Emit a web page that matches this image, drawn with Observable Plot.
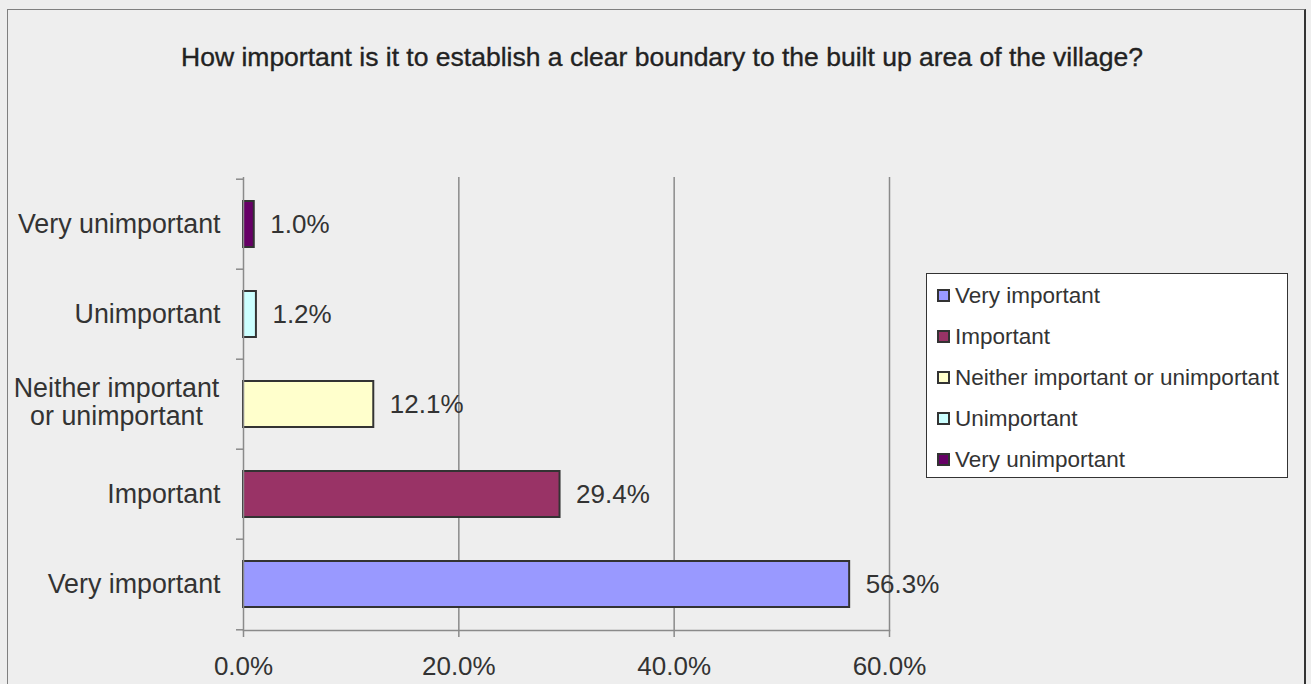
<!DOCTYPE html>
<html>
<head>
<meta charset="utf-8">
<script src="https://cdn.jsdelivr.net/npm/d3@7"></script>
<script src="https://cdn.jsdelivr.net/npm/@observablehq/plot@0.6"></script>
<style>
  html, body { margin: 0; padding: 0; background: #eeeeee; }
  #wrap { position: relative; width: 1311px; height: 684px; background: #eeeeee; overflow: hidden; font-family: "Liberation Sans", Arial, sans-serif; color: #333; }
  #border { position: absolute; left: 7px; top: 9px; width: 1296px; height: 700px; border-left: 1px solid #808080; border-top: 1px solid #808080; border-right: 2px solid #333; }
  #title { position: absolute; left: 0; top: 42px; width: 1324px; text-align: center; font-size: 26.5px; font-weight: normal; color: #222; -webkit-text-stroke: 0.35px #222; }
  #chart { position: absolute; left: 0; top: 0; }
  #legend { position: absolute; left: 926px; top: 273px; width: 362px; height: 205px; background: #fff; border: 1px solid #333; box-sizing: border-box; padding-top: 1px; }
  .item { display: flex; align-items: center; height: 41px; font-size: 22.5px; color: #333; padding-left: 10px; }
  .sw { width: 9px; height: 9px; border: 2px solid #333; margin-right: 5px; flex: none; }
</style>
</head>
<body>
<div id="wrap">
  <div id="border"></div>
  <div id="title"></div>
  <div id="chart"></div>
  <div id="legend"></div>
</div>
<script>
const title = "How important is it to establish a clear boundary to the built up area of the village?";
const categories = ["Very important", "Important", "Neither important or unimportant", "Unimportant", "Very unimportant"];
const values = [56.3, 29.4, 12.1, 1.2, 1.0];
const colors = ["#9999ff", "#993366", "#ffffcc", "#ccffff", "#660066"];
const xTicks = [0, 20, 40, 60];
const axisLabels = {"Neither important or unimportant": "Neither important\nor unimportant"};

const data = categories.map((c, i) => ({category: c, value: values[i]}));
const topToBottom = categories.slice().reverse();

const W = 1311, H = 684, mL = 243, mR = 422, mT = 177, mB = 54;
const step = (H - mT - mB) / categories.length;
const pct = d => d.toFixed(1) + "%";
const fs = 26;
const fsY = 26.8;

document.getElementById("title").textContent = title;

const chart = Plot.plot({
  width: W, height: H,
  marginLeft: mL, marginRight: mR, marginTop: mT, marginBottom: mB,
  style: {background: "transparent", fontFamily: "'Liberation Sans', Arial, sans-serif", fontSize: fs + "px", color: "#333"},
  x: {domain: [0, 60], label: null},
  y: {domain: topToBottom, paddingInner: 0.49, paddingOuter: 0.245, label: null},
  color: {domain: categories, range: colors},
  marks: [
    Plot.gridX(xTicks.slice(1), {stroke: "#8a8a8a", strokeOpacity: 1, strokeWidth: 1.5}),
    Plot.barX(data, {x: "value", y: "category", fill: "category", stroke: "#333", strokeWidth: 2}),
    Plot.text(data, {x: "value", y: "category", text: d => pct(d.value), dx: 16, textAnchor: "start", fontSize: fs, fill: "#333"}),
    Plot.ruleX([0], {stroke: "#8a8a8a", strokeWidth: 1.5}),
    Plot.frame({anchor: "bottom", stroke: "#8a8a8a", strokeWidth: 1.5}),
    Plot.axisX(xTicks, {tickSize: 7, stroke: "#8a8a8a", strokeWidth: 1.5, tickPadding: 19, tickFormat: pct, fontSize: fs, fill: "#333", label: null}),
    Plot.axisY(topToBottom, {tickSize: 7, stroke: "#8a8a8a", strokeWidth: 1.5, dy: -step / 2, text: null, label: null}),
    Plot.axisY([topToBottom[topToBottom.length - 1]], {tickSize: 7, stroke: "#8a8a8a", strokeWidth: 1.5, dy: step / 2, text: null, label: null}),
    Plot.axisY(topToBottom.filter(c => !axisLabels[c]), {tickSize: 0, tickPadding: 23, fontSize: fsY, fill: "#333", label: null}),
    Plot.axisY(topToBottom.filter(c => axisLabels[c]), {tickSize: 0, tickPadding: 127, textAnchor: "middle", lineHeight: 1.04, dy: -2, tickFormat: c => axisLabels[c], fontSize: fsY, fill: "#333", label: null})
  ]
});
document.getElementById("chart").appendChild(chart);

const legend = document.getElementById("legend");
categories.forEach((c, i) => {
  const row = document.createElement("div");
  row.className = "item";
  const sw = document.createElement("span");
  sw.className = "sw";
  sw.style.background = colors[i];
  const t = document.createElement("span");
  t.textContent = c;
  row.appendChild(sw);
  row.appendChild(t);
  legend.appendChild(row);
});
</script>
</body>
</html>
